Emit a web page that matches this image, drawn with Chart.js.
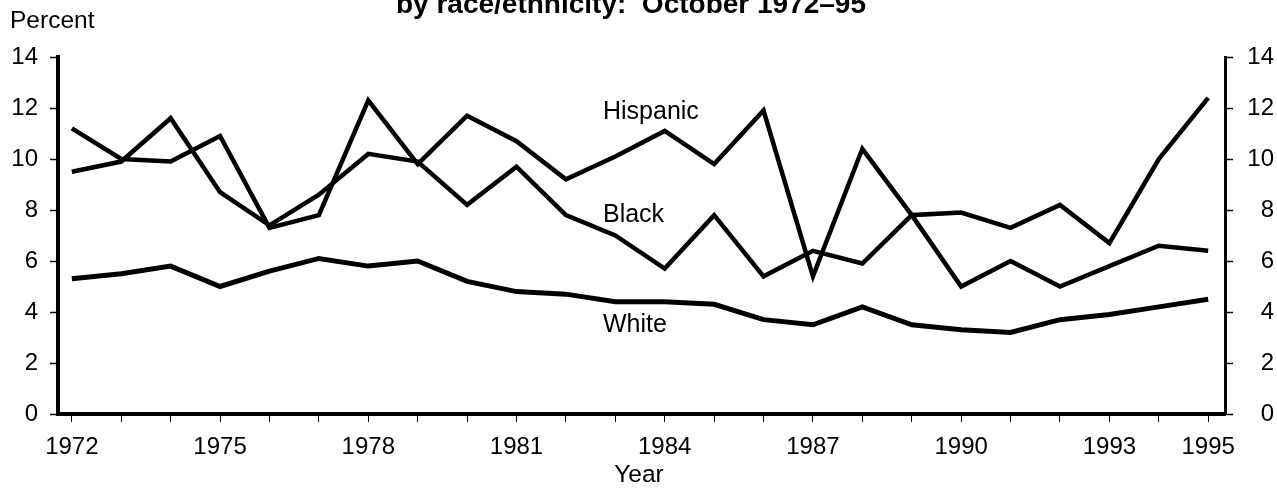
<!DOCTYPE html>
<html>
<head>
<meta charset="utf-8">
<script src="https://cdn.jsdelivr.net/npm/chart.js@4.4.1/dist/chart.umd.min.js"></script>
<style>
  html, body { margin: 0; padding: 0; background: #fff; }
  #wrap { width: 1277px; height: 491px; }
</style>
</head>
<body>
<div id="wrap"><canvas id="chart" width="1277" height="491"></canvas></div>
<script>
const years = [1972, 1973, 1974, 1975, 1976, 1977, 1978, 1979, 1980, 1981, 1982, 1983,
               1984, 1985, 1986, 1987, 1988, 1989, 1990, 1991, 1992, 1993, 1994, 1995];
const hispanic = [11.2, 10.0, 9.9, 10.9, 7.3, 7.8, 12.3, 9.8, 11.7, 10.7, 9.2, 10.1,
                  11.1, 9.8, 11.9, 5.4, 10.4, 7.8, 7.9, 7.3, 8.2, 6.7, 10.0, 12.4];
const black = [9.5, 9.9, 11.6, 8.7, 7.4, 8.6, 10.2, 9.9, 8.2, 9.7, 7.8, 7.0,
               5.7, 7.8, 5.4, 6.4, 5.9, 7.8, 5.0, 6.0, 5.0, 5.8, 6.6, 6.4];
const white = [5.3, 5.5, 5.8, 5.0, 5.6, 6.1, 5.8, 6.0, 5.2, 4.8, 4.7, 4.4,
               4.4, 4.3, 3.7, 3.5, 4.2, 3.5, 3.3, 3.2, 3.7, 3.9, 4.2, 4.5];
const labeledYears = [1972, 1975, 1978, 1981, 1984, 1987, 1990, 1993, 1995];
const yLabels = [0, 2, 4, 6, 8, 10, 12, 14];

const FONT = '"Liberation Sans", Arial, Helvetica, sans-serif';
Chart.defaults.font.family = FONT;
Chart.defaults.color = '#000';

const toPoints = vals => years.map((yr, i) => ({ x: yr, y: vals[i] }));

function lineSet(label, vals, width) {
  return {
    label: label,
    data: toPoints(vals),
    borderColor: '#000',
    borderWidth: width,
    pointRadius: 0,
    tension: 0,
    borderJoinStyle: 'miter',
    yAxisID: 'y'
  };
}

const yTickColor = ctx => (ctx.tick && ctx.tick.value % 2 === 0) ? '#000' : '#aaa';
const yTickWidth = ctx => (ctx.tick && ctx.tick.value % 2 === 0) ? 1.5 : 1;

// text that sits outside the library's own axes
const textPlugin = {
  id: 'texts',
  afterDraw(chart) {
    const ctx = chart.ctx;
    const xs = chart.scales.x;
    const ys = chart.scales.y;
    ctx.save();
    ctx.fillStyle = '#000';

    ctx.font = 'bold 28px ' + FONT;
    ctx.textAlign = 'center';
    ctx.textBaseline = 'alphabetic';
    ctx.fillText('by race/ethnicity:  October 1972\u201395', 631, 13);

    ctx.font = '24.5px ' + FONT;
    ctx.textAlign = 'left';
    ctx.fillText('Percent', 10, 28);

    ctx.textAlign = 'center';
    ctx.fillText('Year', 639, 482);

    ctx.font = '25px ' + FONT;
    ctx.textAlign = 'left';
    ctx.textBaseline = 'middle';
    const lx = xs.getPixelForValue(1982.75);
    ctx.fillText('Hispanic', lx, ys.getPixelForValue(11.85));
    ctx.fillText('Black', lx, ys.getPixelForValue(7.8));
    ctx.fillText('White', lx, ys.getPixelForValue(3.5));
    ctx.restore();
  }
};

new Chart(document.getElementById('chart').getContext('2d'), {
  type: 'line',
  data: {
    datasets: [
      lineSet('Hispanic', hispanic, 4.5),
      lineSet('Black', black, 4.5),
      lineSet('White', white, 5)
    ]
  },
  options: {
    responsive: false,
    animation: false,
    layout: { padding: { top: 57, right: 3, bottom: 0, left: 0 } },
    plugins: { legend: { display: false }, tooltip: { enabled: false }, title: { display: false } },
    scales: {
      x: {
        type: 'linear',
        min: 1971.72,
        max: 1995.34,
        afterFit: s => { s.height = 77; },
        border: { display: true, color: '#000', width: 4 },
        grid: { display: true, drawOnChartArea: false, drawTicks: true, tickLength: 8, tickColor: '#000', tickWidth: 1 },
        ticks: {
          stepSize: 1,
          includeBounds: false,
          autoSkip: false,
          maxRotation: 0,
          padding: 11,
          font: { size: 24 },
          callback: v => labeledYears.includes(Math.round(v)) ? String(Math.round(v)) : ''
        }
      },
      y: {
        position: 'left',
        min: 0,
        max: 14,
        afterFit: s => { s.width = 58; },
        border: { display: true, color: '#000', width: 4 },
        grid: { display: true, drawOnChartArea: false, drawTicks: true, tickLength: 8, tickColor: yTickColor, tickWidth: yTickWidth },
        ticks: {
          stepSize: 1,
          padding: 12,
          font: { size: 24 },
          callback: v => yLabels.includes(v) ? String(v) : ''
        }
      },
      y2: {
        position: 'right',
        min: 0,
        max: 14,
        afterFit: s => { s.width = 49; },
        border: { display: true, color: '#000', width: 3 },
        grid: { display: true, drawOnChartArea: false, drawTicks: true, tickLength: 8, tickColor: yTickColor, tickWidth: yTickWidth },
        ticks: {
          stepSize: 1,
          padding: 12,
          crossAlign: 'far',
          font: { size: 24 },
          callback: v => yLabels.includes(v) ? String(v) : ''
        }
      }
    }
  },
  plugins: [textPlugin]
});
</script>
</body>
</html>
